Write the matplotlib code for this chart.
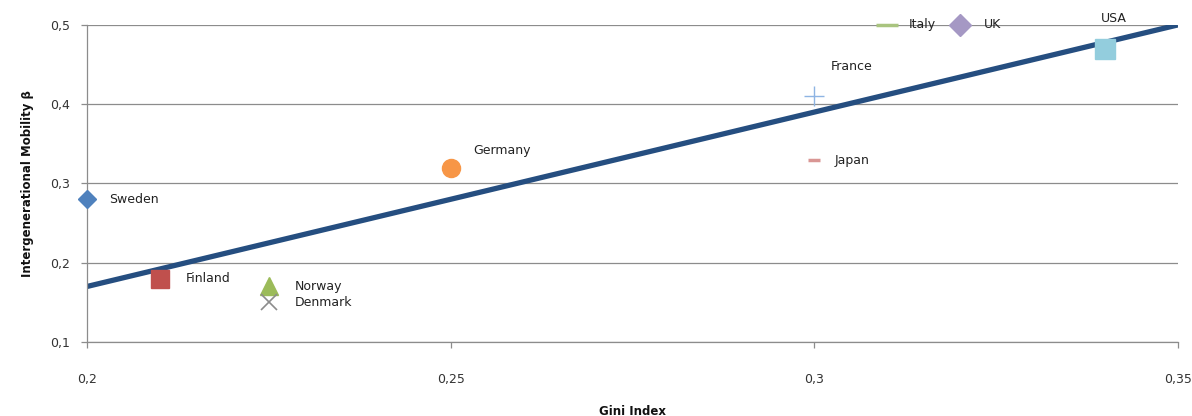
import matplotlib
matplotlib.use("Agg")
import matplotlib.pyplot as plt
from matplotlib.ticker import FuncFormatter

countries = ["Sweden", "Finland", "Norway", "Denmark", "Germany", "France", "Japan", "Italy", "UK", "USA"]
gini = [0.20, 0.21, 0.225, 0.225, 0.25, 0.30, 0.30, 0.31, 0.32, 0.34]
mobility = [0.28, 0.18, 0.17, 0.15, 0.32, 0.41, 0.33, 0.50, 0.50, 0.47]
trend_x = [0.20, 0.35]
trend_y = [0.17, 0.50]
x_ticks = [0.20, 0.25, 0.30, 0.35]
y_ticks = [0.1, 0.2, 0.3, 0.4, 0.5]

styles = {
    "Sweden":  dict(marker="D", color="#4F81BD", ms=9),
    "Finland": dict(marker="s", color="#C0504D", ms=13),
    "Norway":  dict(marker="^", color="#9BBB59", ms=13),
    "Denmark": dict(marker="x", color="#8C8C8C", ms=12, mew=1.2),
    "Germany": dict(marker="o", color="#F79646", ms=13),
    "France":  dict(marker="+", color="#8EB4E3", ms=14, mew=1.0),
    "Japan":   dict(marker="_", color="#D99694", ms=9, mew=2.5),
    "Italy":   dict(marker="_", color="#A9C47F", ms=16, mew=2.5),
    "UK":      dict(marker="D", color="#A598C4", ms=11),
    "USA":     dict(marker="s", color="#93CDDD", ms=14),
}
label_off = {
    "Sweden": (22, 0),
    "Finland": (26, 0),
    "Norway": (26, 0),
    "Denmark": (26, 0),
    "Germany": (23, 17),
    "France": (17, 30),
    "Japan": (20, -1),
    "Italy": (22, 0),
    "UK": (24, 0),
    "USA": (-4, 30),
}

fig = plt.figure(figsize=(11.92, 4.16), dpi=100)
ax = fig.add_axes([0.073, 0.178, 0.915, 0.762])

ax.plot(trend_x, trend_y, color="#254E80", lw=3.8, zorder=2, solid_capstyle="butt")

for c, x, y in zip(countries, gini, mobility):
    st = styles[c]
    kw = dict(marker=st["marker"], ms=st["ms"], color=st["color"], linestyle="none",
              zorder=3, clip_on=False)
    if "mew" in st:
        kw["mew"] = st["mew"]
    else:
        kw["mec"] = st["color"]
    ax.plot([x], [y], **kw)
    dx, dy = label_off[c]
    ax.annotate(c, (x, y), xytext=(dx, dy), textcoords="offset pixels",
                ha="left", va="center", fontsize=9, color="#222222", zorder=4,
                annotation_clip=False)

ax.set_xlim(0.20, 0.35)
ax.set_ylim(0.1, 0.5)
ax.set_xticks(x_ticks)
ax.set_yticks(y_ticks)
fmt = FuncFormatter(lambda v, p: ("%g" % round(v, 3)).replace(".", ","))
ax.xaxis.set_major_formatter(fmt)
ax.yaxis.set_major_formatter(fmt)
ax.grid(axis="y", color="#8C8C8C", lw=0.9)
ax.set_axisbelow(True)
for s in ["top", "right"]:
    ax.spines[s].set_visible(False)
for s in ["left", "bottom"]:
    ax.spines[s].set_color("#8C8C8C")
    ax.spines[s].set_linewidth(0.9)
ax.tick_params(axis="both", colors="#8C8C8C", labelcolor="#333333", labelsize=9, length=4, width=0.9)
ax.tick_params(axis="x", pad=18)
ax.tick_params(axis="y", pad=8)
ax.set_xlabel("Gini Index", fontsize=8.5, fontweight="bold", labelpad=14, color="#111111")
ax.set_ylabel("Intergenerational Mobility β", fontsize=8.5, fontweight="bold", labelpad=12, color="#111111")

fig.savefig("out.png", dpi=100)
